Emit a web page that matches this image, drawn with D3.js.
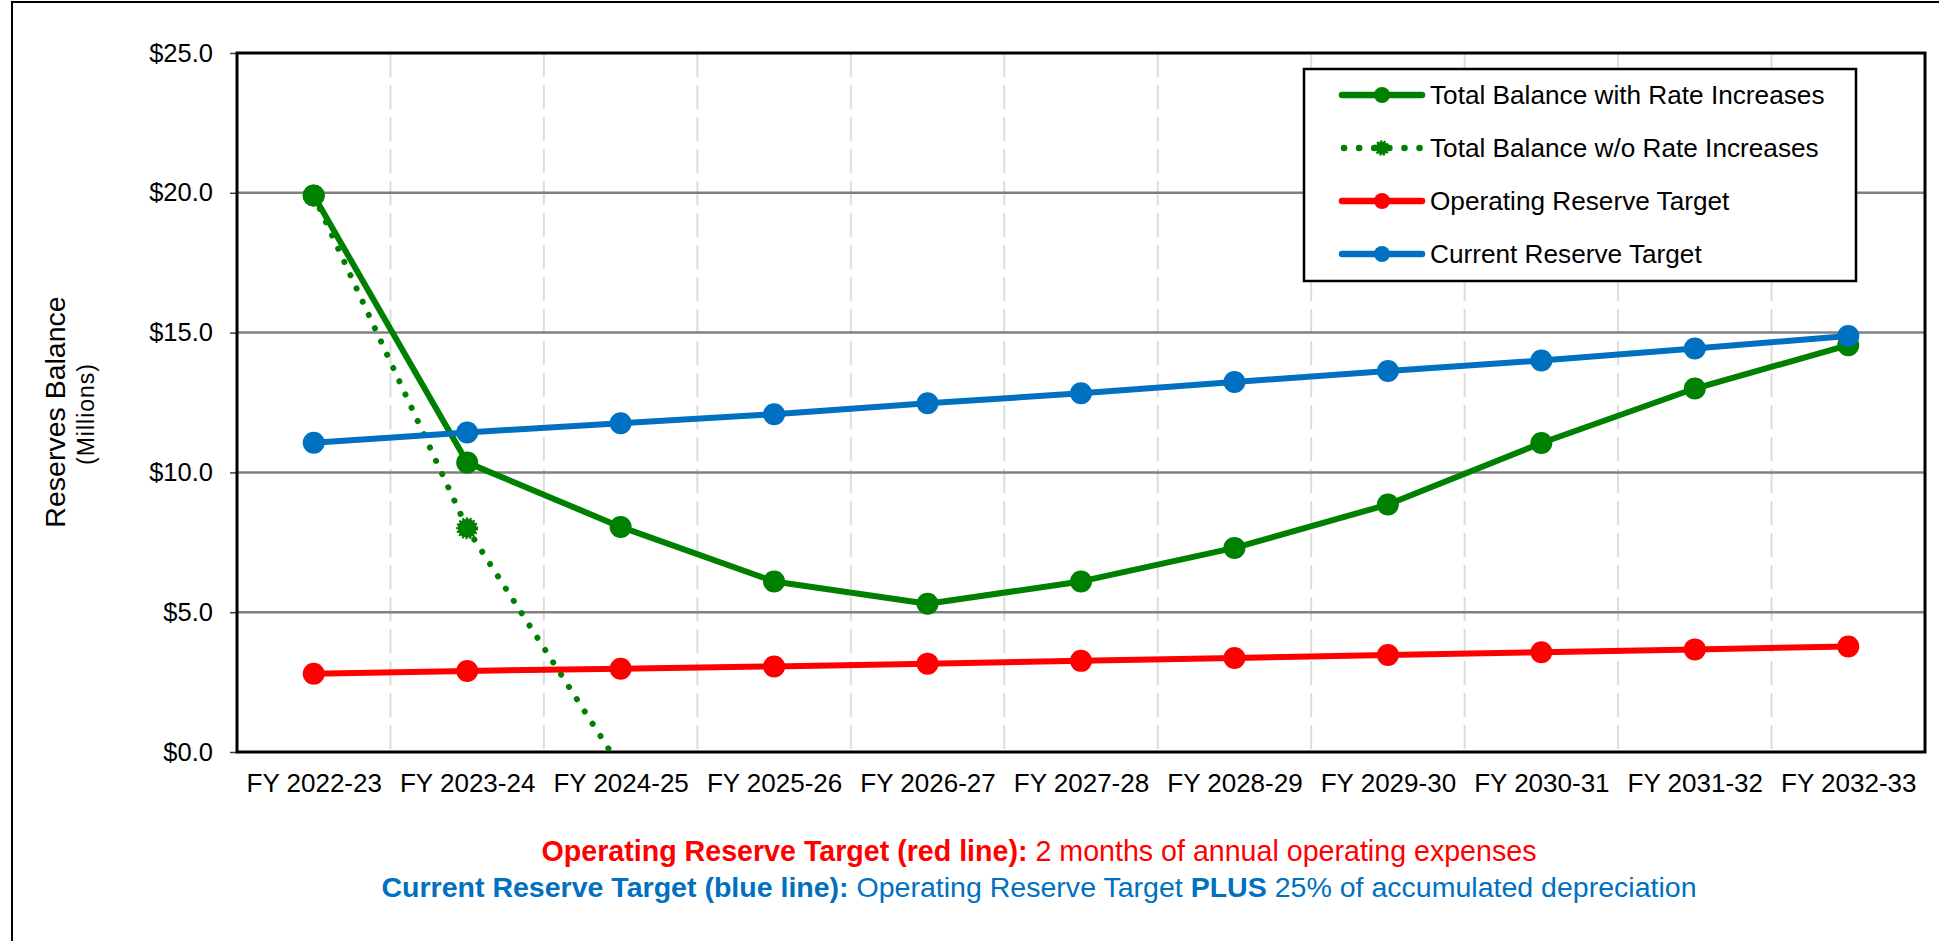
<!DOCTYPE html>
<html>
<head>
<meta charset="utf-8">
<script src="https://cdn.jsdelivr.net/npm/d3@7"></script>
<style>
  html, body { margin: 0; padding: 0; background: #fff; }
  svg { display: block; }
  text { font-family: "Liberation Sans", Arial, sans-serif; }
</style>
</head>
<body>
<svg id="chart" width="1939" height="941"></svg>
<script>
// ── data ($ millions) ──
const categories = ["FY 2022-23", "FY 2023-24", "FY 2024-25", "FY 2025-26", "FY 2026-27", "FY 2027-28",
                    "FY 2028-29", "FY 2029-30", "FY 2030-31", "FY 2031-32", "FY 2032-33"];
const balanceWithRates    = [19.9, 10.35, 8.05, 6.1, 5.3, 6.1, 7.3, 8.85, 11.05, 13.0, 14.55];
const balanceWithoutRates = [19.9, 8.0, -0.55, null, null, null, null, null, null, null, null];
const operatingTarget     = [2.8, 2.9, 2.98, 3.06, 3.16, 3.26, 3.36, 3.47, 3.57, 3.67, 3.77];
const currentTarget       = [11.06, 11.43, 11.76, 12.08, 12.47, 12.83, 13.23, 13.63, 14.0, 14.43, 14.88];
const yTicks = [0, 5, 10, 15, 20, 25];

const series = [
    { name: "Total Balance with Rate Increases", values: balanceWithRates, color: "#008000", dotted: false },
    { name: "Total Balance w/o Rate Increases", values: balanceWithoutRates, color: "#008000", dotted: true },
    { name: "Operating Reserve Target", values: operatingTarget, color: "#ff0000", dotted: false },
    { name: "Current Reserve Target", values: currentTarget, color: "#0070c0", dotted: false }
];

const W = 1939, H = 941;
const plot = { left: 237, right: 1925, top: 53, bottom: 752 };

const svg = d3.select('#chart');
svg.append('rect').attr('width', W).attr('height', H).attr('fill', '#fff');

// outer frame (right / bottom edges fall outside the picture)
svg.append('rect')
    .attr('x', 12).attr('y', 2).attr('width', W).attr('height', H)
    .attr('fill', 'none').attr('stroke', '#000').attr('stroke-width', 2);

const x = d3.scalePoint().domain(categories).range([plot.left, plot.right]).padding(0.5);
const y = d3.scaleLinear().domain([0, 25]).range([plot.bottom, plot.top]);
const step = x.step();

svg.append('defs').append('clipPath').attr('id', 'plot-clip')
    .append('rect')
    .attr('x', plot.left).attr('y', plot.top)
    .attr('width', plot.right - plot.left).attr('height', plot.bottom - plot.top);

// vertical dashed gridlines between categories
svg.append('g')
    .selectAll('line')
    .data(categories.slice(1))
    .join('line')
    .attr('x1', d => x(d) - step / 2).attr('x2', d => x(d) - step / 2)
    .attr('y1', plot.top).attr('y2', plot.bottom)
    .attr('stroke', '#dcdcdc').attr('stroke-width', 2)
    .attr('stroke-dasharray', '24,8');

// horizontal gridlines
svg.append('g')
    .selectAll('line')
    .data(yTicks.filter(d => d > 0 && d < 25))
    .join('line')
    .attr('x1', plot.left).attr('x2', plot.right)
    .attr('y1', d => y(d)).attr('y2', d => y(d))
    .attr('stroke', '#808080').attr('stroke-width', 2.5);

// y axis
svg.append('g')
    .attr('transform', `translate(${plot.left},0)`)
    .call(d3.axisLeft(y).tickValues(yTicks).tickFormat(d3.format('$.1f')).tickSize(7).tickPadding(17))
    .call(g => g.select('.domain').remove())
    .call(g => g.selectAll('line').attr('stroke', '#404040').attr('stroke-width', 1.5))
    .call(g => g.selectAll('text')
        .attr('font-size', 25.5).attr('fill', '#000')
        .attr('font-family', '"Liberation Sans", Arial, sans-serif'));

// x axis labels
svg.append('g')
    .attr('transform', `translate(0,${plot.bottom})`)
    .call(d3.axisBottom(x).tickSize(0).tickPadding(21.5))
    .call(g => g.select('.domain').remove())
    .call(g => g.selectAll('text')
        .attr('font-size', 26).attr('fill', '#000')
        .attr('font-family', '"Liberation Sans", Arial, sans-serif'));

// plot border
svg.append('rect')
    .attr('x', plot.left).attr('y', plot.top)
    .attr('width', plot.right - plot.left).attr('height', plot.bottom - plot.top)
    .attr('fill', 'none').attr('stroke', '#000').attr('stroke-width', 3);

// axis title
svg.append('text')
    .attr('transform', 'translate(55,412) rotate(-90)')
    .attr('text-anchor', 'middle').attr('dy', '0.35em')
    .attr('font-size', 28.5).attr('fill', '#000')
    .text('Reserves Balance');
svg.append('text')
    .attr('transform', 'translate(86,414) rotate(-90)')
    .attr('text-anchor', 'middle').attr('dy', '0.35em')
    .attr('font-size', 23).attr('letter-spacing', 1).attr('fill', '#000')
    .text('(Millions)');

// series
const line = d3.line()
    .defined(d => d.v != null)
    .x(d => x(d.c))
    .y(d => y(d.v));

const seriesG = svg.append('g').attr('clip-path', 'url(#plot-clip)');
const drawOrder = [series[1], series[0], series[2], series[3]];

drawOrder.forEach(s => {
    const pts = categories.map((c, i) => ({ c, v: s.values[i] }));
    seriesG.append('path')
        .datum(pts)
        .attr('d', line)
        .attr('fill', 'none')
        .attr('stroke', s.color)
        .attr('stroke-width', 6)
        .attr('stroke-linejoin', 'round')
        .attr('stroke-linecap', 'round')
        .attr('stroke-dasharray', s.dotted ? '0.1,14.5' : null);

    seriesG.append('g')
        .selectAll('circle')
        .data(pts.filter(d => d.v != null))
        .join('circle')
        .attr('cx', d => x(d.c))
        .attr('cy', d => y(d.v))
        .attr('r', s.dotted ? 9.5 : 11)
        .attr('fill', s.color)
        .attr('stroke', s.dotted ? s.color : 'none')
        .attr('stroke-width', s.dotted ? 3 : 0)
        .attr('stroke-dasharray', s.dotted ? '2,1.6' : null);
});

// legend
const legend = svg.append('g');
legend.append('rect')
    .attr('x', 1304).attr('y', 69).attr('width', 552).attr('height', 212)
    .attr('fill', '#fff').attr('stroke', '#000').attr('stroke-width', 2.5);

const rows = legend.selectAll('g.row')
    .data(series)
    .join('g')
    .attr('class', 'row')
    .attr('transform', (d, i) => `translate(1342,${95 + i * 53})`);

rows.append('line')
    .attr('x1', 0).attr('x2', 80).attr('y1', 0).attr('y2', 0)
    .attr('stroke', d => d.color)
    .attr('stroke-width', 6.5)
    .attr('stroke-linecap', 'round')
    .attr('stroke-dasharray', d => d.dotted ? '0.1,15' : null)
    .attr('stroke-dashoffset', d => d.dotted ? -2 : null);

rows.append('circle')
    .attr('cx', 40).attr('cy', 0)
    .attr('r', d => d.dotted ? 6.5 : 8)
    .attr('fill', d => d.color)
    .attr('stroke', d => d.dotted ? d.color : 'none')
    .attr('stroke-width', d => d.dotted ? 2.5 : 0)
    .attr('stroke-dasharray', d => d.dotted ? '2,1.5' : null);

rows.append('text')
    .attr('x', 88).attr('y', 0).attr('dy', '0.35em')
    .attr('font-size', 26.2).attr('fill', '#000')
    .text(d => d.name);

// notes under the chart
const notes = [
    { color: '#ff0000', y: 861, width: 995, parts: [
        { t: 'Operating Reserve Target (red line):', b: true },
        { t: ' 2 months of annual operating expenses', b: false }
    ]},
    { color: '#0070c0', y: 897, width: 1316, parts: [
        { t: 'Current Reserve Target (blue line):', b: true },
        { t: ' Operating Reserve Target ', b: false },
        { t: 'PLUS', b: true },
        { t: ' 25% of accumulated depreciation', b: false }
    ]}
];

notes.forEach(n => {
    const t = svg.append('text')
        .attr('x', 1039).attr('y', n.y)
        .attr('text-anchor', 'middle')
        .attr('font-family', 'Lato, "Open Sans", sans-serif')
        .attr('font-size', 26)
        .attr('fill', n.color)
        .style('white-space', 'pre');
    n.parts.forEach(p => {
        t.append('tspan')
            .attr('font-weight', p.b ? 'bold' : 'normal')
            .text(p.t);
    });
    const w = t.node().getBBox().width;
    if (w > 0) t.attr('font-size', 26 * n.width / w);
});
</script>
</body>
</html>
